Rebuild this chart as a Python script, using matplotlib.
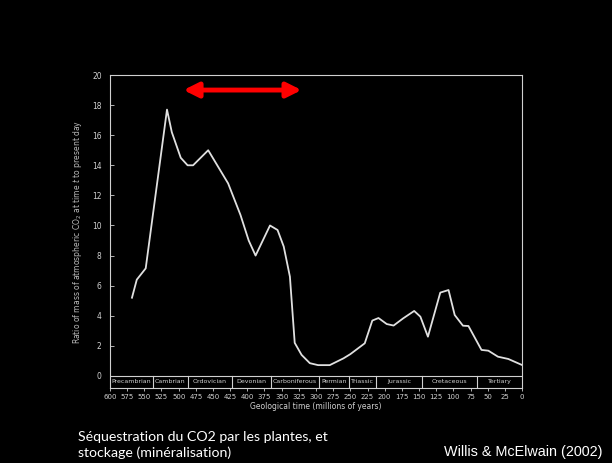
import matplotlib
matplotlib.use('Agg')
import matplotlib.pyplot as plt

# CO2 ratio curve (age in Myr, ratio to present day)
ages = [568, 561, 548, 517, 510, 497, 487, 479, 457, 428, 410, 398, 388,
        367, 356, 347, 338, 331, 321, 309, 297, 280, 260, 250, 229, 218,
        209, 197, 187, 173, 157, 148, 137, 119, 107, 98, 86, 78, 59, 49,
        35, 20, 0]
ratio = [5.2, 6.4, 7.15, 17.7, 16.2, 14.5, 14.0, 14.0, 15.0, 12.8, 10.7, 9.0, 8.0,
         10.0, 9.7, 8.6, 6.6, 2.2, 1.4, 0.85, 0.72, 0.72, 1.17, 1.45, 2.17, 3.68,
         3.85, 3.45, 3.35, 3.83, 4.32, 3.94, 2.61, 5.54, 5.71, 4.05, 3.34, 3.32, 1.73, 1.68,
         1.28, 1.13, 0.73]

periods = ['Precambrian', 'Cambrian', 'Ordovician', 'Devonian', 'Carboniferous',
           'Permian', 'Triassic', 'Jurassic', 'Cretaceous', 'Tertiary']
bounds = [600, 538, 487, 423, 366, 295, 252, 213, 145, 65, 0]

xticks = list(range(600, -1, -25))
yticks = list(range(0, 21, 2))

arrow_span = (493, 321)
arrow_y = 19.0

fg = '#d0d0d0'
band = -0.8

fig = plt.figure(figsize=(6.12, 4.63), dpi=100, facecolor='black')
ax = fig.add_axes([110 / 612, 1 - 388 / 463, 412 / 612, 313 / 463])
ax.set_facecolor('black')

ax.plot(ages, ratio, color='#e0e0e0', lw=1.3)

ax.set_xlim(600, 0)
ax.set_ylim(band, 20)

for s in ax.spines.values():
    s.set_color(fg)
    s.set_linewidth(0.8)

# period band under the zero line
ax.axhline(0, color=fg, lw=0.8)
for b in bounds[1:-1]:
    ax.plot([b, b], [0, band], color=fg, lw=0.8)
for name, a, b in zip(periods, bounds[:-1], bounds[1:]):
    ax.text((a + b) / 2, band / 2, name, ha='center', va='center',
            fontsize=4.5, color=fg)

ax.set_xticks(xticks)
ax.set_xticklabels([str(t) for t in xticks])
ax.set_yticks(yticks)
ax.tick_params(axis='x', colors=fg, labelsize=5, length=2, width=0.6, pad=2)
ax.tick_params(axis='y', colors=fg, labelsize=5.5, length=3, width=0.6,
               direction='in', pad=6)

ax.set_xlabel('Geological time (millions of years)', color=fg, fontsize=5.5, labelpad=2)
ax.set_ylabel('Ratio of mass of atmospheric CO$_2$ at time $t$ to present day',
              color='#bbbbbb', fontsize=5.5, labelpad=6)

ax.annotate('', xy=(arrow_span[1], arrow_y), xytext=(arrow_span[0], arrow_y),
            arrowprops=dict(arrowstyle='<|-|>', color='#ff0000', lw=3.5,
                            mutation_scale=22, shrinkA=0, shrinkB=0))

fig.text(78 / 612, 1 - 437 / 463, 'Séquestration du CO2 par les plantes, et',
         color='white', fontsize=10.2, family='Lato', va='center')
fig.text(78 / 612, 1 - 453 / 463, 'stockage (minéralisation)',
         color='white', fontsize=10.2, family='Lato', va='center')
fig.text(602 / 612, 1 - 452 / 463, 'Willis & McElwain (2002)',
         color='white', fontsize=10.4, family='Liberation Sans', va='center', ha='right')

fig.savefig('out.png', dpi=100, facecolor='black')
